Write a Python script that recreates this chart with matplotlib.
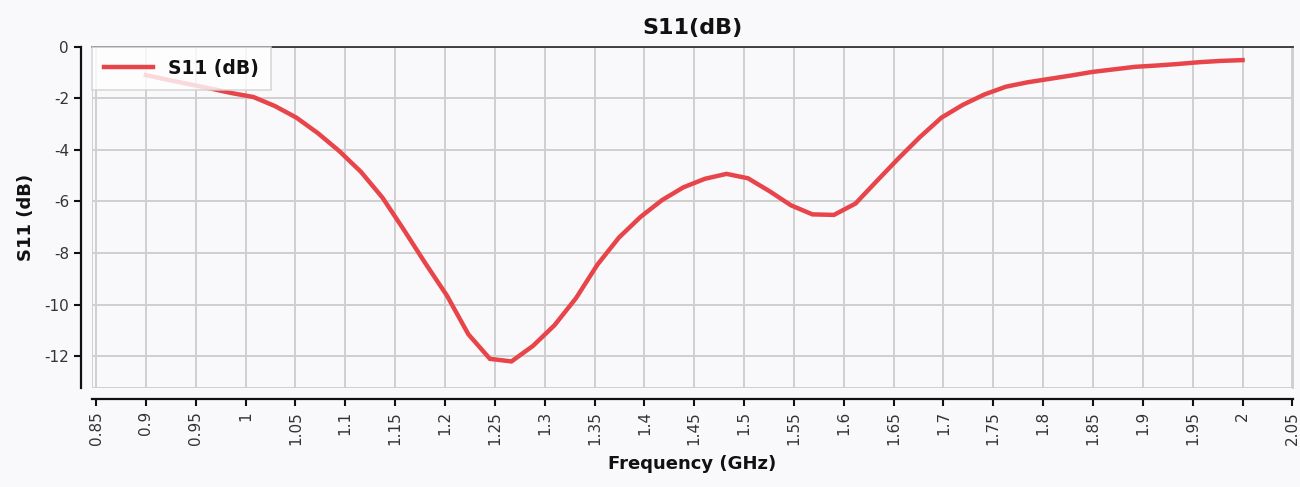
import matplotlib
matplotlib.use("Agg")
import matplotlib.pyplot as plt
from matplotlib.ticker import MultipleLocator, FuncFormatter

freq_ghz = [
    0.9000, 0.9216, 0.9431, 0.9647, 0.9863, 1.0078, 1.0294, 1.0510, 1.0725, 1.0941,
    1.1157, 1.1373, 1.1588, 1.1804, 1.2020, 1.2235, 1.2451, 1.2667, 1.2882, 1.3098,
    1.3314, 1.3529, 1.3745, 1.3961, 1.4176, 1.4392, 1.4608, 1.4824, 1.5039, 1.5255,
    1.5471, 1.5686, 1.5902, 1.6118, 1.6333, 1.6549, 1.6765, 1.6980, 1.7196, 1.7412,
    1.7627, 1.7843, 1.8059, 1.8275, 1.8490, 1.8706, 1.8922, 1.9137, 1.9353, 1.9569,
    1.9784, 2.0000,
]
s11_db = [
    -1.10, -1.28, -1.45, -1.62, -1.80, -1.95, -2.30, -2.75, -3.35, -4.05,
    -4.85, -5.85, -7.10, -8.40, -9.65, -11.15, -12.10, -12.20, -11.60, -10.80,
    -9.75, -8.45, -7.40, -6.60, -5.95, -5.45, -5.12, -4.93, -5.10, -5.60,
    -6.15, -6.50, -6.52, -6.08, -5.20, -4.33, -3.50, -2.75, -2.25, -1.85,
    -1.55, -1.38, -1.25, -1.12, -0.98, -0.88, -0.78, -0.73, -0.67, -0.60,
    -0.55, -0.52,
]

bg = "#f9f9fb"
grid_c = "#cfcfcf"
red = "#e8454a"

fig = plt.figure(figsize=(13, 4.87), dpi=100, facecolor=bg)
ax = fig.add_axes([0.0708, 0.2033, 0.9238, 0.7008], facecolor=bg)

ax.plot(freq_ghz, s11_db, color=red, linewidth=3.2, label="S11 (dB)",
        solid_joinstyle="miter", zorder=3)

ax.set_xlim(0.846, 2.0506)
ax.set_ylim(-13.23, 0)
ax.xaxis.set_major_locator(MultipleLocator(0.05))
ax.yaxis.set_major_locator(MultipleLocator(2))
ax.xaxis.set_major_formatter(FuncFormatter(lambda v, p: f"{v:.2f}".rstrip("0").rstrip(".")))
ax.yaxis.set_major_formatter(FuncFormatter(lambda v, p: f"{v:.0f}"))

ax.grid(True, color=grid_c, linewidth=1.4)
ax.set_axisbelow(True)

# plot area frame: dark top, light grey elsewhere, axis lines pushed outward
ax.spines["top"].set_color("#333333")
ax.spines["top"].set_linewidth(1.3)
ax.spines["right"].set_color(grid_c)
ax.spines["right"].set_linewidth(1.4)
for side in ("left", "bottom"):
    ax.spines[side].set_position(("outward", 8))
    ax.spines[side].set_color("#111111")
    ax.spines[side].set_linewidth(1.6)
ax.axvline(0.846, color=grid_c, linewidth=1.4, zorder=1)
ax.axhline(-13.23, color=grid_c, linewidth=1.4, zorder=1)

ax.tick_params(axis="both", direction="out", length=5, width=1.5,
               colors="#111111", labelcolor="#333333", labelsize=11)
ax.tick_params(axis="x", labelrotation=90)

ax.set_title("S11(dB)", fontsize=16, fontweight="bold", color="#111111", pad=9)
ax.set_xlabel("Frequency (GHz)", fontsize=13, fontweight="bold", color="#111111", labelpad=7)
ax.set_ylabel("S11 (dB)", fontsize=13, fontweight="bold", color="#111111", labelpad=7)

leg = ax.legend(loc="upper left", borderaxespad=0, fancybox=False, framealpha=0.8,
                edgecolor="#d0d0d0", facecolor="white", handlelength=2.6,
                handletextpad=0.8, prop={"weight": "bold", "size": 13.5}, borderpad=0.65)
leg.get_frame().set_linewidth(1.2)
for t in leg.get_texts():
    t.set_color("#111111")

fig.savefig("out.png", dpi=100, facecolor=bg)
plt.close(fig)
